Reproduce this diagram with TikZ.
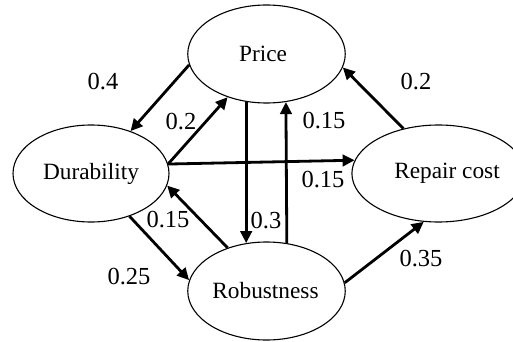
\documentclass[tikz,border=0pt]{standalone}
\usepackage{fontspec}
\setmainfont{Liberation Serif}
\usetikzlibrary{shapes.geometric,arrows.meta}
\tikzset{
  ell/.style={ellipse, draw, line width=1.1pt, inner sep=0pt, font=\fontsize{23.3}{26}\selectfont},
  conn/.style={line width=2.8pt, -{Triangle[length=12pt,width=11.5pt]}},
  wlab/.style={font=\fontsize{24.5}{27}\selectfont, inner sep=0pt}
}
\begin{document}
\begin{tikzpicture}[x=1pt,y=-1pt]
\useasboundingbox (0,0) rectangle (513,342);
\node[ell, minimum width=157.5pt, minimum height=98pt] (p) at (266.5,54) {\hspace*{-7pt}Price};
\node[ell, minimum width=156pt, minimum height=97pt] (d) at (91,173.5) {Durability};
\node[ell, minimum width=147pt, minimum height=97pt] (r) at (438.5,173.5) {\hspace*{17pt}Repair cost};
\node[ell, minimum width=157.5pt, minimum height=98pt] (b) at (266.5,291) {\hspace*{-2pt}Robustness};

\draw[conn] (p.188.8) -- (d.47.1);
\draw[conn] (d.7.8) -- (p.228);
\draw[conn] (d.7.8) -- (r.171.7);
\draw[conn] (p.247) -- (b.113);
\draw[conn] (b.67.7) -- (p.292.3);
\draw[conn] (r.128.9) -- (p.350.3);
\draw[conn] (b.132) -- (d.351.6);
\draw[conn] (d.312.9) -- (b.172);
\draw[conn] (b.6.6) -- (r.253);

\node[wlab] (l1) at (103,82) {0.4};
\node[wlab] (l2) at (181,122) {0.2};
\node[wlab] (l3) at (323,180) {0.15};
\node[wlab] (l4) at (266,221) {0.3};
\node[wlab] (l5) at (324,121) {0.15};
\node[wlab] (l6) at (416,82) {0.2};
\node[wlab] (l7) at (168,220) {0.15};
\node[wlab] (l8) at (129,277) {0.25};
\node[wlab] (l9) at (421,259) {0.35};
\end{tikzpicture}
\end{document}
